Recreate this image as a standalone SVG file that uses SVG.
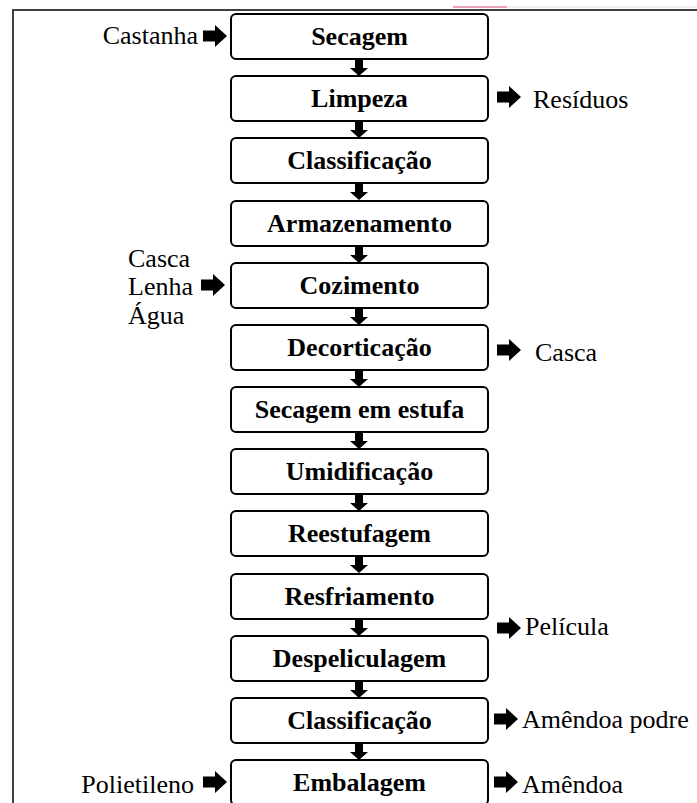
<svg xmlns="http://www.w3.org/2000/svg" xmlns:xlink="http://www.w3.org/1999/xlink" width="697" height="803" viewBox="0 0 697 803">
<style>
.box{fill:#fff;stroke:#000;stroke-width:2}
.nt{font-family:"Liberation Serif","Times New Roman",serif;font-weight:bold;font-size:26px;text-anchor:middle;fill:#000}
.lt{font-family:"Liberation Serif","Times New Roman",serif;font-size:26px;fill:#000}
.arr{fill:#000}
</style>
<defs>
<path id="down" d="M-4,0 H4 V8 H9 L0,16 L-9,8 H-4 Z"/>
<path id="right" d="M0,-5.5 H12 V-11 L24,0 L12,11 V5.5 H0 Z"/>
</defs>
<rect width="697" height="803" fill="#fff"/>
<g id="frame">
<line x1="453" y1="7" x2="507" y2="7" stroke="#d8457a" stroke-width="1"/>
<line x1="507" y1="7" x2="697" y2="7" stroke="#dddddd" stroke-width="1"/>
<line x1="12" y1="10" x2="697" y2="10" stroke="#404040" stroke-width="2"/>
<line x1="13" y1="9" x2="13" y2="803" stroke="#404040" stroke-width="2"/>
</g>
<g id="connectors" class="arr">
<use xlink:href="#down" x="359" y="60"/>
<use xlink:href="#down" x="359" y="122"/>
<use xlink:href="#down" x="359" y="184"/>
<use xlink:href="#down" x="359" y="247"/>
<use xlink:href="#down" x="359" y="309"/>
<use xlink:href="#down" x="359" y="371"/>
<use xlink:href="#down" x="359" y="433"/>
<use xlink:href="#down" x="359" y="495"/>
<use xlink:href="#down" x="359" y="557"/>
<use xlink:href="#down" x="359" y="620"/>
<use xlink:href="#down" x="359" y="682"/>
<use xlink:href="#down" x="359" y="744"/>
<use xlink:href="#right" x="203" y="36"/>
<use xlink:href="#right" x="497" y="97"/>
<use xlink:href="#right" x="201" y="285"/>
<use xlink:href="#right" x="497" y="350"/>
<use xlink:href="#right" x="497" y="628"/>
<use xlink:href="#right" x="494" y="719"/>
<use xlink:href="#right" x="203" y="782"/>
<use xlink:href="#right" x="494" y="782"/>
</g>
<g id="n1"><rect class="box" x="231" y="14" width="257" height="45" rx="5"/><text class="nt" x="359.5" y="44.5">Secagem</text></g>
<g id="n2"><rect class="box" x="231" y="76" width="257" height="45" rx="5"/><text class="nt" x="359.5" y="106.5">Limpeza</text></g>
<g id="n3"><rect class="box" x="231" y="138" width="257" height="45" rx="5"/><text class="nt" x="359.5" y="168.5">Classificação</text></g>
<g id="n4"><rect class="box" x="231" y="201" width="257" height="45" rx="5"/><text class="nt" x="359.5" y="231.5">Armazenamento</text></g>
<g id="n5"><rect class="box" x="231" y="263" width="257" height="45" rx="5"/><text class="nt" x="359.5" y="293.5">Cozimento</text></g>
<g id="n6"><rect class="box" x="231" y="325" width="257" height="45" rx="5"/><text class="nt" x="359.5" y="355.5">Decorticação</text></g>
<g id="n7"><rect class="box" x="231" y="387" width="257" height="45" rx="5"/><text class="nt" x="359.5" y="417.5">Secagem em estufa</text></g>
<g id="n8"><rect class="box" x="231" y="449" width="257" height="45" rx="5"/><text class="nt" x="359.5" y="479.5">Umidificação</text></g>
<g id="n9"><rect class="box" x="231" y="511" width="257" height="45" rx="5"/><text class="nt" x="359.5" y="541.5">Reestufagem</text></g>
<g id="n10"><rect class="box" x="231" y="574" width="257" height="45" rx="5"/><text class="nt" x="359.5" y="604.5">Resfriamento</text></g>
<g id="n11"><rect class="box" x="231" y="636" width="257" height="45" rx="5"/><text class="nt" x="359.5" y="666.5">Despeliculagem</text></g>
<g id="n12"><rect class="box" x="231" y="698" width="257" height="45" rx="5"/><text class="nt" x="359.5" y="728.5">Classificação</text></g>
<g id="n13"><rect class="box" x="231" y="760" width="257" height="45" rx="5"/><text class="nt" x="359.5" y="790.5">Embalagem</text></g>
<g id="labels">
<text class="lt" x="198" y="44" text-anchor="end">Castanha</text>
<text class="lt" x="533" y="108">Resíduos</text>
<text class="lt" x="128" y="267">Casca</text>
<text class="lt" x="128" y="295">Lenha</text>
<text class="lt" x="128" y="324">Água</text>
<text class="lt" x="535" y="361">Casca</text>
<text class="lt" x="525" y="635">Película</text>
<text class="lt" x="522" y="728">Amêndoa podre</text>
<text class="lt" x="194" y="793" text-anchor="end">Polietileno</text>
<text class="lt" x="522" y="793">Amêndoa</text>
</g>
</svg>
